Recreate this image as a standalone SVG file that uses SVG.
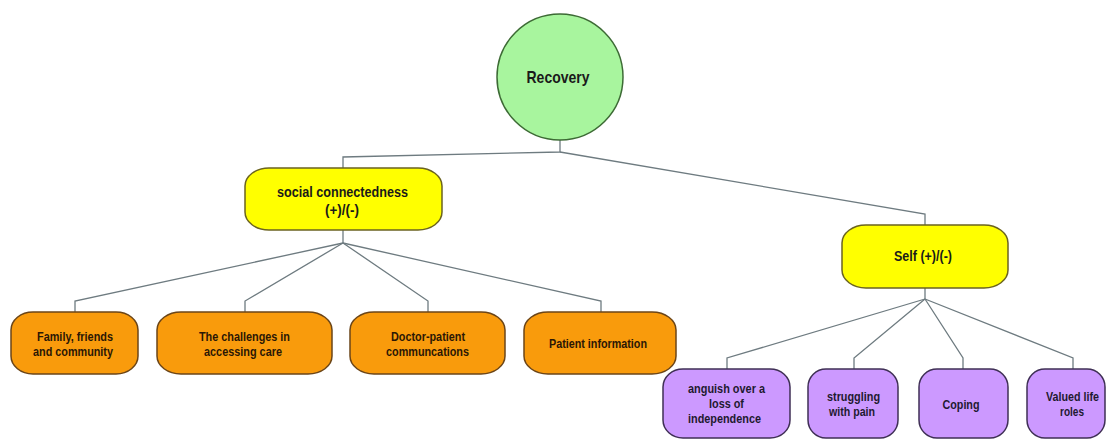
<svg xmlns="http://www.w3.org/2000/svg" width="1109" height="440" viewBox="0 0 1109 440">
<style>
  .bg { fill: #ffffff; }
  .conn { fill: none; stroke: #6e7b80; stroke-width: 1.3; }
  .root { fill: #a8f59e; stroke: #3d6b35; stroke-width: 1.5; }
  .yel { fill: #ffff00; stroke: #6b6320; stroke-width: 1.5; }
  .org { fill: #f99b0c; stroke: #6b4518; stroke-width: 1.5; }
  .pur { fill: #cc99ff; stroke: #3f2f55; stroke-width: 1.5; }
  text { font-family: "Liberation Sans", Arial, sans-serif; font-weight: bold; text-anchor: middle; fill: #1a1a1a; }
  .t16 { font-size: 17px; }
  .t14 { font-size: 14.5px; }
  .t13 { font-size: 13px; }
  .dk { fill: #2b1705; }
  .nv { fill: #1e1a30; }
</style>
<rect class="bg" x="0" y="0" width="1109" height="440"/>

<g id="connectors">
  <polyline class="conn" points="560,140 560,152 343,157 343,168"/>
  <polyline class="conn" points="560,152 925,214 925,225"/>
  <polyline class="conn" points="343,230 343,243"/>
  <polyline class="conn" points="343,243 75,301 75,312"/>
  <polyline class="conn" points="343,243 245,301 245,312"/>
  <polyline class="conn" points="343,243 428,301 428,312"/>
  <polyline class="conn" points="343,243 601,301 601,312"/>
  <polyline class="conn" points="925,288 925,299"/>
  <polyline class="conn" points="925,299 727,358 727,369"/>
  <polyline class="conn" points="925,299 854,358 854,369"/>
  <polyline class="conn" points="925,299 963,358 963,369"/>
  <polyline class="conn" points="925,299 1073,358 1073,369"/>
</g>

<g id="recovery">
  <circle class="root" cx="560" cy="77" r="63"/>
  <text class="t16" x="558" y="83" textLength="63" lengthAdjust="spacingAndGlyphs">Recovery</text>
</g>

<g id="social">
  <rect class="yel" x="245" y="168" width="197" height="62" rx="24" ry="18"/>
  <text class="t14" x="342.5" y="197" textLength="131" lengthAdjust="spacingAndGlyphs">social connectedness</text>
  <text class="t14" x="342" y="215" textLength="34" lengthAdjust="spacingAndGlyphs">(+)/(-)</text>
</g>

<g id="self">
  <rect class="yel" x="842" y="225" width="166" height="63" rx="24" ry="18"/>
  <text class="t14" x="923" y="261" textLength="58" lengthAdjust="spacingAndGlyphs">Self (+)/(-)</text>
</g>

<g id="family">
  <rect class="org" x="11" y="312" width="127" height="62" rx="22" ry="18"/>
  <text class="t13 dk" x="75" y="341" textLength="76" lengthAdjust="spacingAndGlyphs">Family, friends</text>
  <text class="t13 dk" x="73" y="356" textLength="80" lengthAdjust="spacingAndGlyphs">and community</text>
</g>

<g id="challenges">
  <rect class="org" x="157" y="312" width="175" height="62" rx="24" ry="18"/>
  <text class="t13 dk" x="244.5" y="341" textLength="91" lengthAdjust="spacingAndGlyphs">The challenges in</text>
  <text class="t13 dk" x="243" y="356" textLength="78" lengthAdjust="spacingAndGlyphs">accessing care</text>
</g>

<g id="doctor">
  <rect class="org" x="350" y="312" width="155" height="62" rx="24" ry="18"/>
  <text class="t13 dk" x="428" y="341" textLength="74" lengthAdjust="spacingAndGlyphs">Doctor-patient</text>
  <text class="t13 dk" x="427.5" y="356" textLength="83" lengthAdjust="spacingAndGlyphs">communcations</text>
</g>

<g id="patient">
  <rect class="org" x="524" y="312" width="152" height="62" rx="24" ry="18"/>
  <text class="t13 dk" x="598" y="348" textLength="98" lengthAdjust="spacingAndGlyphs">Patient information</text>
</g>

<g id="anguish">
  <rect class="pur" x="663" y="369" width="127" height="69" rx="20" ry="18"/>
  <text class="t13 nv" x="726.5" y="393" textLength="77" lengthAdjust="spacingAndGlyphs">anguish over a</text>
  <text class="t13 nv" x="726.5" y="408" textLength="35" lengthAdjust="spacingAndGlyphs">loss of</text>
  <text class="t13 nv" x="724.5" y="423" textLength="73" lengthAdjust="spacingAndGlyphs">independence</text>
</g>

<g id="struggling">
  <rect class="pur" x="808" y="369" width="90" height="69" rx="18" ry="18"/>
  <text class="t13 nv" x="853.5" y="401" textLength="53" lengthAdjust="spacingAndGlyphs">struggling</text>
  <text class="t13 nv" x="852" y="416" textLength="46" lengthAdjust="spacingAndGlyphs">with pain</text>
</g>

<g id="coping">
  <rect class="pur" x="919" y="369" width="89" height="69" rx="18" ry="18"/>
  <text class="t13 nv" x="961" y="409" textLength="37" lengthAdjust="spacingAndGlyphs">Coping</text>
</g>

<g id="valued">
  <rect class="pur" x="1027" y="369" width="78" height="69" rx="18" ry="18"/>
  <text class="t13 nv" x="1072.5" y="401" textLength="53" lengthAdjust="spacingAndGlyphs">Valued life</text>
  <text class="t13 nv" x="1072" y="416" textLength="24" lengthAdjust="spacingAndGlyphs">roles</text>
</g>
</svg>
